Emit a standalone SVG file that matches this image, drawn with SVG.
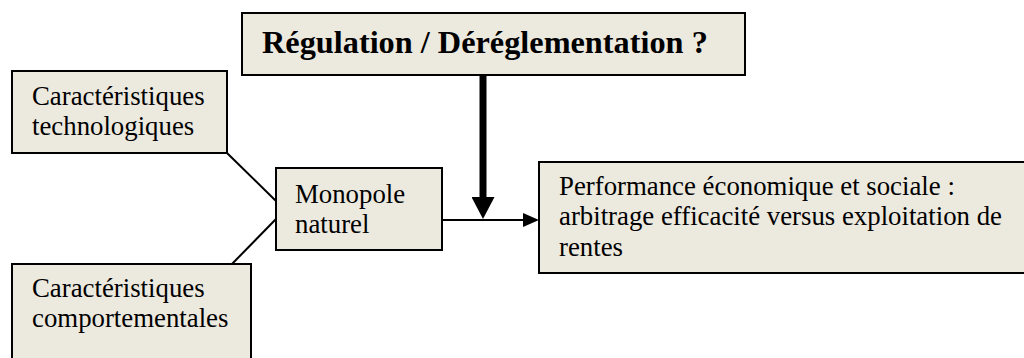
<svg xmlns="http://www.w3.org/2000/svg" width="1024" height="358" viewBox="0 0 1024 358">
  <style>
    .box { fill: #ECE9DF; stroke: #000; stroke-width: 2; }
    .txt { font-family: "Liberation Serif", "Times New Roman", serif; font-size: 26.8px; fill: #000; }
    .title { font-family: "Liberation Serif", "Times New Roman", serif; font-size: 32.3px; font-weight: bold; fill: #000; }
    .conn { stroke: #000; fill: none; }
  </style>
  <defs>
    <marker id="headBig" markerUnits="userSpaceOnUse" viewBox="0 0 22 23" refX="0" refY="11.5" markerWidth="22" markerHeight="23" orient="auto">
      <path d="M0,0 L22,11.5 L0,23 Z" fill="#000"/>
    </marker>
    <marker id="headSmall" markerUnits="userSpaceOnUse" viewBox="0 0 16 14" refX="0" refY="7" markerWidth="16" markerHeight="14" orient="auto">
      <path d="M0,0 L16,7 L0,14 Z" fill="#000"/>
    </marker>
  </defs>

  <g id="connectors">
    <line class="conn" x1="227" y1="153" x2="276" y2="201" stroke-width="2"/>
    <line class="conn" x1="276" y1="219" x2="232" y2="264" stroke-width="2"/>
    <line class="conn" x1="442" y1="220" x2="523" y2="220" stroke-width="2" marker-end="url(#headSmall)"/>
    <line class="conn" x1="483" y1="76" x2="483" y2="197" stroke-width="7" marker-end="url(#headBig)"/>
  </g>

  <g id="node-regulation">
    <rect class="box" x="242" y="13" width="503" height="62"/>
    <text class="title" x="262" y="53">Régulation / Déréglementation ?</text>
  </g>

  <g id="node-tech">
    <rect class="box" x="12" y="71" width="215" height="82"/>
    <text class="txt" x="32" y="105">Caractéristiques</text>
    <text class="txt" x="32" y="135">technologiques</text>
  </g>

  <g id="node-comport">
    <rect class="box" x="12" y="264" width="239" height="110"/>
    <text class="txt" x="32" y="297">Caractéristiques</text>
    <text class="txt" x="32" y="327">comportementales</text>
  </g>

  <g id="node-monopole">
    <rect class="box" x="276" y="168" width="166" height="82"/>
    <text class="txt" x="295" y="203">Monopole</text>
    <text class="txt" x="295" y="233">naturel</text>
  </g>

  <g id="node-performance">
    <rect class="box" x="539" y="162" width="500" height="111"/>
    <text class="txt" x="559" y="195">Performance économique et sociale :</text>
    <text class="txt" x="559" y="225">arbitrage efficacité versus exploitation de</text>
    <text class="txt" x="559" y="256">rentes</text>
  </g>
</svg>
